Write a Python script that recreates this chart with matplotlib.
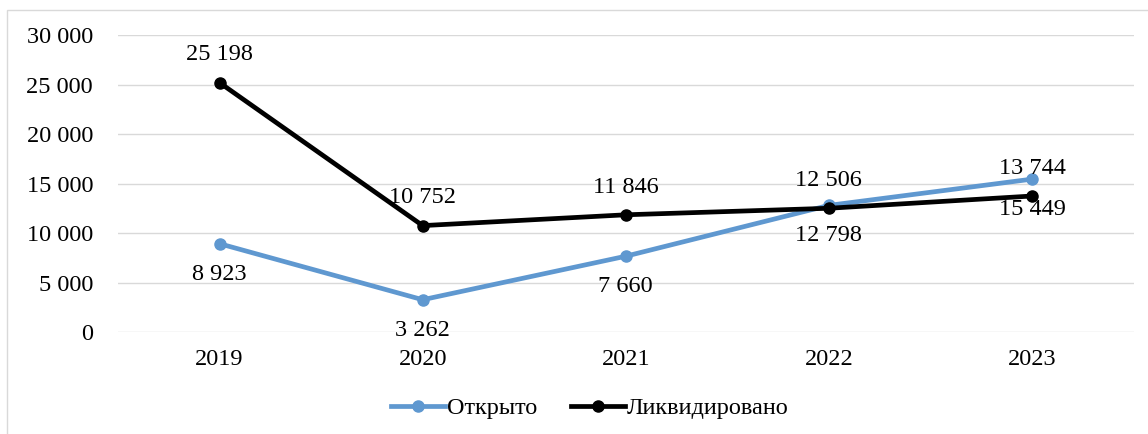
import matplotlib.pyplot as plt
from matplotlib.patches import Rectangle
from matplotlib.ticker import FuncFormatter

plt.rcParams['font.family'] = ['Liberation Serif', 'DejaVu Serif']

years = ['2019', '2020', '2021', '2022', '2023']
opened = [8923, 3262, 7660, 12798, 15449]
closed = [25198, 10752, 11846, 12506, 13744]

BLUE = '#5f98d0'
BLACK = '#000000'
FS = 17.5


def fmt(v):
    return f'{int(v):,}'.replace(',', ' ')


fig = plt.figure(figsize=(11.48, 4.34), dpi=100)
ax = fig.add_axes([0.1028, 0.235, 0.8846, 0.684])

x = range(len(years))
ax.plot(x, opened, color=BLUE, lw=3.4, marker='o', ms=8, label='Открыто', zorder=3)
ax.plot(x, closed, color=BLACK, lw=3.4, marker='o', ms=8, label='Ликвидировано', zorder=4)

# value labels: black series above, blue series below
for i, v in enumerate(closed):
    ax.annotate(fmt(v), (i, v), xytext=(0, 20), textcoords='offset points',
                ha='center', va='center', fontsize=FS)
for i, v in enumerate(opened):
    ax.annotate(fmt(v), (i, v), xytext=(0, -22), textcoords='offset points',
                ha='center', va='center', fontsize=FS)

ax.set_xlim(-0.5, len(years) - 0.5)
ax.set_ylim(0, 30000)
ax.set_yticks(range(0, 30001, 5000))
ax.yaxis.set_major_formatter(FuncFormatter(lambda v, p: fmt(v)))
ax.set_xticks(list(x))
ax.set_xticklabels(years)
ax.tick_params(axis='both', length=0, labelsize=FS)
ax.tick_params(axis='y', pad=18)
ax.tick_params(axis='x', pad=12)
ax.grid(axis='y', color='#d9d9d9', lw=1)
ax.set_axisbelow(True)
for s in ax.spines.values():
    s.set_visible(False)

fig.legend(loc='center', bbox_to_anchor=(590 / 1148, 1 - 408 / 434), ncol=2,
           frameon=False, fontsize=FS, handlelength=2.2, columnspacing=1.4,
           handletextpad=0.1)

# chart outer frame
fig.patches.append(Rectangle((7 / 1148, -0.05), 1.1, 1 - 10 / 434 + 0.05,
                             transform=fig.transFigure, fill=False,
                             edgecolor='#d9d9d9', lw=1))

fig.savefig('out.png', dpi=100)
